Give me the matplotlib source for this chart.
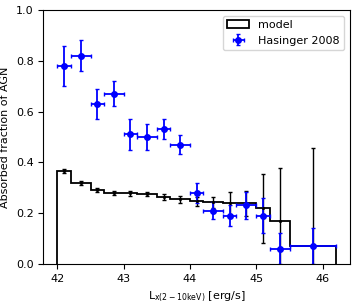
# Absorbed AGN fraction vs hard X-ray luminosity

import matplotlib
matplotlib.use('Agg')
import matplotlib.pyplot as plt
import numpy as np

# luminosity bins (log L_x)
bin_edges = [42.0, 42.2, 42.5, 42.7, 43.0, 43.2, 43.5, 43.7, 44.0,
             44.2, 44.5, 44.7, 45.0, 45.2, 45.5, 46.2]
bin_centers = [42.1, 42.35, 42.6, 42.85, 43.1, 43.35, 43.6, 43.85, 44.1,
               44.35, 44.6, 44.85, 45.1, 45.35, 45.85]

# model
model_frac = [0.366, 0.317, 0.290, 0.281, 0.278, 0.276, 0.265, 0.255, 0.246,
              0.242, 0.238, 0.238, 0.219, 0.167, 0.071]
model_err = [0.008, 0.008, 0.008, 0.008, 0.009, 0.009, 0.012, 0.014, 0.017,
             0.02, 0.045, 0.05, 0.135, 0.21, 0.385]

# Hasinger 2008
has_frac = [0.78, 0.82, 0.63, 0.67, 0.51, 0.50, 0.53, 0.47, 0.28,
            0.21, 0.19, 0.23, 0.19, 0.06, 0.07]
has_err = [0.08, 0.06, 0.06, 0.05, 0.06, 0.05, 0.04, 0.037, 0.04,
           0.033, 0.04, 0.055, 0.07, 0.06, 0.07]


def plot():
    plt.rcParams['font.size'] = 8
    fig = plt.figure(figsize=(3.56, 3.04), dpi=100)
    ax = fig.add_axes([0.122, 0.132, 0.861, 0.835])

    edges = np.array(bin_edges)
    centers = np.array(bin_centers)
    xerr = [centers - edges[:-1], edges[1:] - centers]

    ax.hist(centers, bins=edges, weights=model_frac, histtype='step',
            color='k', lw=1.3, label='model')
    ax.errorbar(centers, model_frac, yerr=model_err, fmt='k.', ms=2.5,
                lw=1, capsize=1.5)
    ax.errorbar(centers, has_frac, xerr=xerr, yerr=has_err, fmt='bo', ms=4,
                lw=1.3, capsize=1.5, label='Hasinger 2008')

    ax.set_ylim(0, 1)
    ax.set_xlabel(r'L$_{\rm x(2-10keV)}$ [erg/s]')
    ax.set_ylabel('Absorbed fraction of AGN')
    ax.legend(loc='upper right')

    fig.savefig('out.png', dpi=100)


plot()
